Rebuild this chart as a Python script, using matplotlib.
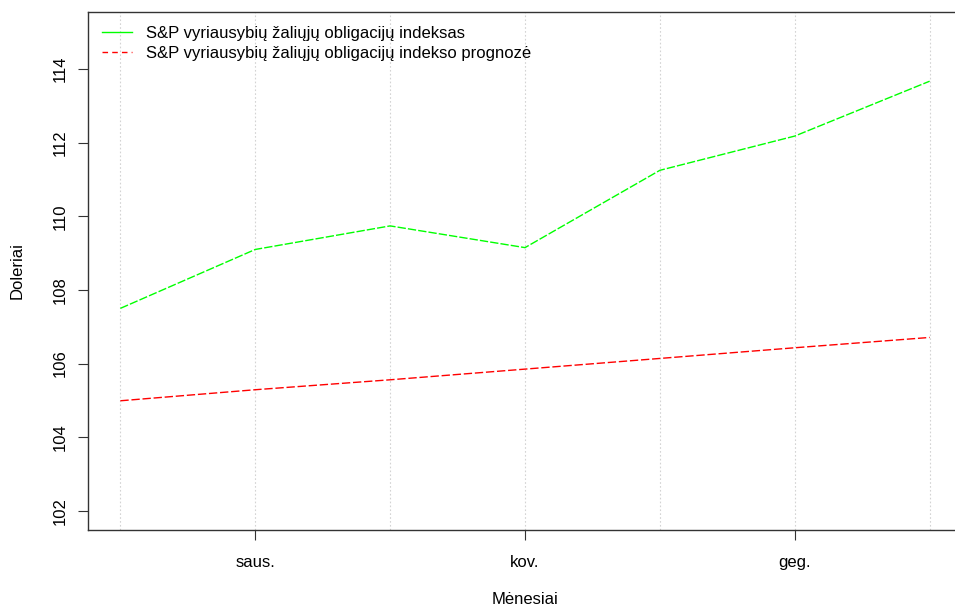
import matplotlib.pyplot as plt
import numpy as np

plt.rcParams['font.family'] = ['Liberation Sans', 'DejaVu Sans']

# duomenys
menesiai = [1, 2, 3, 4, 5, 6, 7]
indeksas = [107.50, 109.10, 109.74, 109.15, 111.25, 112.18, 113.67]
prognoze = [104.99, 105.29, 105.56, 105.85, 106.14, 106.43, 106.71]
tick_pos = [2, 4, 6]
tick_labels = ['saus.', 'kov.', 'geg.']
y_ticks = [102, 104, 106, 108, 110, 112, 114]

fig = plt.figure(figsize=(9.55, 6.08), dpi=100)
ax = fig.add_axes([88 / 955, 78 / 608, 874 / 955, 518 / 608])

for x in menesiai:
    ax.axvline(x, color='#d3d3d3', lw=0.8, ls=(0, (1.5, 2)), zorder=0)

ax.plot(menesiai, indeksas, color='#00ff00', lw=1, dashes=(6, 1.5))
ax.plot(menesiai, prognoze, color='#ff0000', lw=1, dashes=(6, 2))

ax.set_xlim(0.76, 7.24)
ax.set_ylim(101.48, 115.55)

fs = 12
ax.set_xticks(tick_pos)
ax.set_xticklabels(tick_labels, fontsize=fs)
ax.set_yticks(y_ticks)
ax.set_yticklabels([str(v) for v in y_ticks], rotation=90, va='center', fontsize=fs)
ax.tick_params(direction='out', length=7, width=0.8, color='#333333')
ax.tick_params(axis='x', pad=11)
ax.tick_params(axis='y', pad=7.5)

for s in ax.spines.values():
    s.set_color('#333333')
    s.set_linewidth(1)

ax.set_xlabel('Mėnesiai', fontsize=fs)
ax.xaxis.set_label_coords(0.5, -0.12)
ax.set_ylabel('Doleriai', fontsize=fs)
ax.yaxis.set_label_coords(-0.072, 0.5)

# legenda
h1, = ax.plot([], [], color='#00ff00', lw=1)
h2, = ax.plot([], [], color='#ff0000', lw=1, dashes=(4, 3))
ax.legend([h1, h2],
          ['S&P vyriausybių žaliųjų obligacijų indeksas',
           'S&P vyriausybių žaliųjų obligacijų indekso prognozė'],
          loc='upper left', bbox_to_anchor=(6 / 874, 1 - 6 / 518),
          frameon=False, fontsize=12,
          handlelength=1.8, handletextpad=0.8, labelspacing=0.3,
          borderaxespad=0, borderpad=0.5)

fig.savefig('out.png', dpi=100)
